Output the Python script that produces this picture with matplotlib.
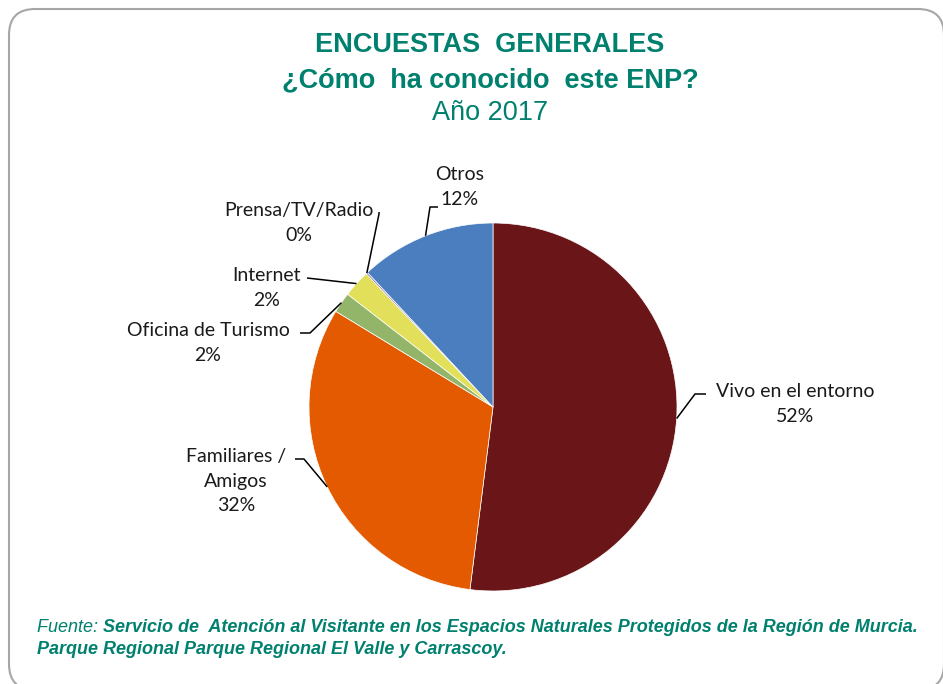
import numpy as np
import matplotlib.pyplot as plt
from matplotlib.patches import FancyBboxPatch

# Data (clockwise from top)
categories = ['Vivo en el entorno', 'Familiares /\nAmigos', 'Oficina de\u00a0Turismo',
              'Internet', 'Prensa/TV/Radio', 'Otros']
values = [52.0, 31.7, 1.8, 2.4, 0.15, 11.95]
pct_labels = ['52%', '32%', '2%', '2%', '0%', '12%']
colors = ['#6A1518', '#E35A00', '#93B56A', '#E2E05A', '#8A6FB0', '#4A7EBE']

W, H = 943, 684
fig = plt.figure(figsize=(W / 100, H / 100), dpi=100)
ax = fig.add_axes([0, 0, 1, 1])

# rounded frame
frame = FancyBboxPatch((9, -6), 935, H - 3, boxstyle='round,pad=0,rounding_size=26',
                       fc='white', ec='#A6A6A6', lw=1.5, zorder=0)
ax.add_patch(frame)

cx, cy, r = 493, H - 407, 184
wedges, _ = ax.pie(values, colors=colors, startangle=90, counterclock=False,
                   center=(cx, cy), radius=r, frame=True,
                   wedgeprops=dict(linewidth=0.5, edgecolor='white'))
ax.set_xlim(0, W)
ax.set_ylim(0, H)
ax.set_aspect('auto')
ax.axis('off')

# label layout: text centre, leader elbow, leader end (pixels, y from top)
label_pos = [(795, 404), (236, 481), (208, 343), (267, 288), (299, 223), (460, 187)]
elbows = [(695, 394), (304, 459), (310, 333), (307, 278), (379, 214), (430, 207)]
ends = [(706, 394), (295, 459), (300, 333), (307, 278), (379, 212), (438, 207)]

label_font = dict(family=['Lato', 'DejaVu Sans'], fontsize=14, color='#1a1a1a')
for w, cat, pct, tp, el, en in zip(wedges, categories, pct_labels, label_pos, elbows, ends):
    mid = np.deg2rad((w.theta1 + w.theta2) / 2)
    ax_x = w.center[0] + w.r * np.cos(mid)
    ax_y = w.center[1] + w.r * np.sin(mid)
    ax.plot([ax_x, el[0], en[0]], [ax_y, H - el[1], H - en[1]], color='black', lw=1.1,
            solid_capstyle='butt')
    ax.text(tp[0], H - tp[1], cat + '\n' + pct, ha='center', va='center',
            linespacing=1.55, **label_font)

teal = '#00806E'
title_font = ['Liberation Sans', 'DejaVu Sans']
ax.text(490, H - 45, 'ENCUESTAS  GENERALES', ha='center', va='center', fontsize=19.5,
        fontweight='bold', color=teal, family=title_font)
ax.text(490, H - 80, '¿Cómo  ha conocido  este ENP?', ha='center', va='center',
        fontsize=19.5, fontweight='bold', color=teal, family=title_font)
ax.text(490, H - 113, 'Año 2017', ha='center', va='center', fontsize=19.5,
        color=teal, family=title_font)

foot_font = ['Liberation Sans', 'DejaVu Sans']
t = ax.text(37, H - 628, 'Fuente: ', ha='left', va='center', fontsize=13,
            style='italic', color=teal, family=foot_font)
ax.annotate('Servicio de  Atención al Visitante en los Espacios Naturales Protegidos de la Región de Murcia.',
            xycoords=t, xy=(1, 0.5), ha='left', va='center', fontsize=13,
            style='italic', fontweight='bold', color=teal, family=foot_font)
ax.text(37, H - 650, 'Parque Regional Parque Regional El Valle y Carrascoy.', ha='left',
        va='center', fontsize=13, style='italic', fontweight='bold', color=teal,
        family=foot_font)

fig.savefig('out.png', dpi=100, facecolor='white')
